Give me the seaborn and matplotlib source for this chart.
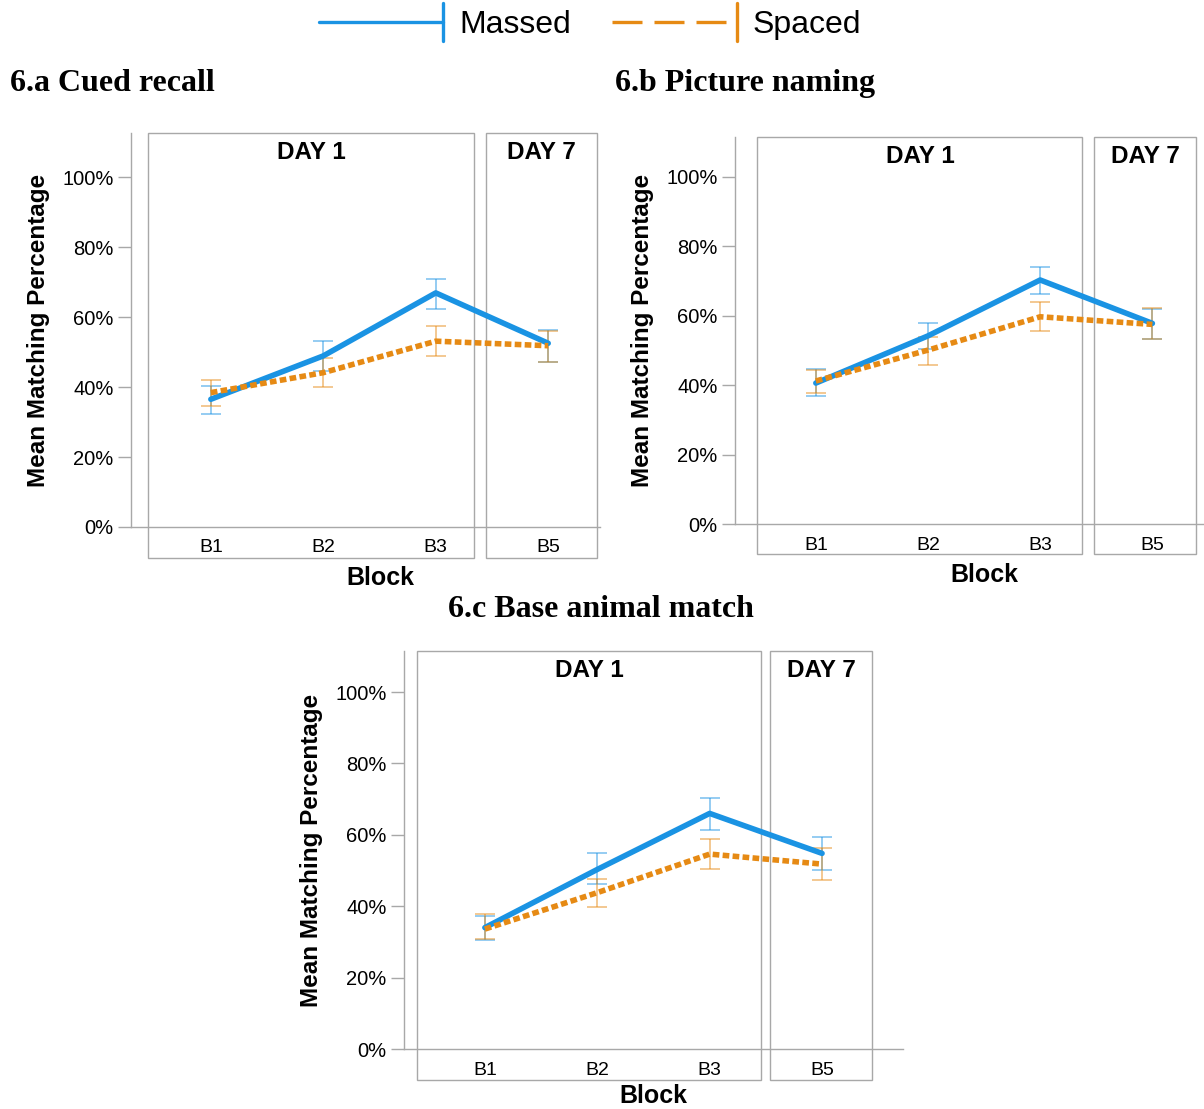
from matplotlib import pyplot as plt
from matplotlib.patches import Rectangle
from matplotlib.lines import Line2D
from matplotlib.legend_handler import HandlerBase
from matplotlib.ticker import PercentFormatter
import matplotlib.transforms as mtrans
import seaborn as sns
import pandas as pd

sns.set_style('white')
plt.rcParams['font.family'] = ['Liberation Sans', 'DejaVu Sans']
plt.rcParams['text.color'] = 'black'
plt.rcParams['axes.labelcolor'] = 'black'

# values (percent)
blocks = ['B1', 'B2', 'B3', 'B5']
conditions = ['Massed', 'Spaced']

cued_massed = [36.5, 48.9, 66.9, 52.5]
cued_massed_lo = [32.4, 44.6, 62.3, 47.1]
cued_massed_hi = [40.3, 53.2, 70.9, 56.3]
cued_spaced = [38.4, 44.1, 53.1, 51.8]
cued_spaced_lo = [34.7, 40.0, 48.9, 47.2]
cued_spaced_hi = [41.9, 48.2, 57.3, 56.1]

naming_massed = [40.6, 54.2, 70.3, 57.8]
naming_massed_lo = [36.9, 50.3, 66.4, 53.3]
naming_massed_hi = [44.7, 58.0, 74.0, 62.0]
naming_spaced = [41.2, 50.1, 59.7, 57.5]
naming_spaced_lo = [37.8, 45.8, 55.6, 53.3]
naming_spaced_hi = [44.5, 53.9, 64.0, 62.2]

animal_massed = [34.0, 50.3, 66.0, 54.8]
animal_massed_lo = [30.5, 46.1, 61.3, 50.1]
animal_massed_hi = [37.3, 55.0, 70.2, 59.4]
animal_spaced = [33.6, 43.8, 54.6, 51.8]
animal_spaced_lo = [30.9, 39.9, 50.4, 47.3]
animal_spaced_hi = [37.7, 47.7, 58.7, 56.4]

colors = {'Massed': '#1a93e3', 'Spaced': '#e68a14'}
grey = '#a8a8a8'


def make_frame(massed, massed_lo, massed_hi, spaced, spaced_lo, spaced_hi):
    rows = []
    for cond, m, lo, hi in [('Massed', massed, massed_lo, massed_hi),
                            ('Spaced', spaced, spaced_lo, spaced_hi)]:
        for b, v, l, h in zip(blocks, m, lo, hi):
            rows.append({'block': b, 'condition': cond, 'mean': v, 'lo': l, 'hi': h})
    return pd.DataFrame(rows)


def draw_panel(ax, df, xlim, ytop, day1, day7, label_xy):
    for cond in conditions:
        sub = df[df['condition'] == cond]
        ax.errorbar(list(sub['block']), sub['mean'],
                    yerr=[sub['mean'] - sub['lo'], sub['hi'] - sub['mean']],
                    fmt='none', ecolor=colors[cond], alpha=0.5, elinewidth=1.3,
                    capsize=7.5, capthick=1.3, zorder=2)
    sns.lineplot(data=df, x='block', y='mean', hue='condition', style='condition',
                 palette=colors, dashes={'Massed': '', 'Spaced': (1.2, 0.6)},
                 linewidth=4.0, legend=False, ax=ax, zorder=3)
    ax.set_xlim(*xlim)
    ax.set_ylim(0, ytop)
    ax.set_yticks([0, 20, 40, 60, 80, 100])
    ax.yaxis.set_major_formatter(PercentFormatter(decimals=0))
    sns.despine(ax=ax)
    for s in ['left', 'bottom']:
        ax.spines[s].set_color(grey)
        ax.spines[s].set_linewidth(1.0)
    ax.tick_params(axis='y', length=9.5, width=1.0, color=grey, labelcolor='black',
                   pad=3, labelsize=14.5, left=True)
    ax.tick_params(axis='x', length=0, pad=9, labelsize=14, labelcolor='black')
    ax.set_ylabel('Mean Matching Percentage', fontsize=17.5, fontweight='bold', labelpad=9)
    ax.set_xlabel('Block', fontsize=18, fontweight='bold')
    ax.xaxis.set_label_coords(*label_xy)
    # DAY boxes reaching below the axis
    trans = mtrans.blended_transform_factory(ax.transData, ax.transAxes)
    for (x0, x1), name in [(day1, 'DAY 1'), (day7, 'DAY 7')]:
        ax.add_patch(Rectangle((x0, -0.078), x1 - x0, 1.078, transform=trans,
                               fill=False, edgecolor=grey, lw=1.0, clip_on=False))
        ax.text((x0 + x1) / 2, 0.95, name, transform=trans, ha='center', va='center',
                fontsize=17.5, fontweight='bold')


class CapHandler(HandlerBase):
    def __init__(self, ls):
        super().__init__()
        self.ls = ls

    def create_artists(self, legend, orig, xdescent, ydescent, width, height, fontsize, trans):
        y = height / 2 - ydescent
        x1 = width - xdescent
        line = Line2D([-xdescent, x1], [y, y], color=orig.get_color(), lw=orig.get_linewidth(),
                      linestyle=self.ls, transform=trans)
        cap = Line2D([x1, x1], [y - height * 0.85, y + height * 0.85], color=orig.get_color(),
                     lw=orig.get_linewidth(), transform=trans)
        return [line, cap]


fig = plt.figure(figsize=(12.04, 11.09), dpi=100)

ax_a = fig.add_axes([0.1088, 0.5248, 0.3895, 0.3553])
draw_panel(ax_a, make_frame(cued_massed, cued_massed_lo, cued_massed_hi,
                            cued_spaced, cued_spaced_lo, cued_spaced_hi),
           (-0.71, 3.46), 112.6, (-0.56, 2.34), (2.45, 3.43), (0.531, -0.1))

ax_b = fig.add_axes([0.6105, 0.5275, 0.3895, 0.349])
draw_panel(ax_b, make_frame(naming_massed, naming_massed_lo, naming_massed_hi,
                            naming_spaced, naming_spaced_lo, naming_spaced_hi),
           (-0.72, 3.46), 111.5, (-0.52, 2.375), (2.48, 3.39), (0.531, -0.1))

ax_c = fig.add_axes([0.3355, 0.0541, 0.4145, 0.3589])
draw_panel(ax_c, make_frame(animal_massed, animal_massed_lo, animal_massed_hi,
                            animal_spaced, animal_spaced_lo, animal_spaced_hi),
           (-0.72, 3.72), 111.5, (-0.6, 2.46), (2.54, 3.44), (0.5, -0.087))

title_kw = dict(fontsize=23, fontweight='bold', family=['Liberation Serif', 'DejaVu Serif'], va='center')
fig.text(0.0083, 0.925, '6.a Cued recall', ha='left', **title_kw)
fig.text(0.511, 0.925, '6.b Picture naming', ha='left', **title_kw)
fig.text(0.499, 0.45, '6.c Base animal match', ha='center', **title_kw)

h_massed = Line2D([], [], color=colors['Massed'], lw=2.4)
h_spaced = Line2D([], [], color=colors['Spaced'], lw=2.4)
fig.legend([h_massed, h_spaced], conditions, loc='center', bbox_to_anchor=(0.49, 1 - 25 / 1109),
           ncol=2, frameon=False, fontsize=23, handlelength=3.9, handletextpad=0.5,
           columnspacing=1.3,
           handler_map={h_massed: CapHandler('-'), h_spaced: CapHandler((0, (9, 3.6)))})

fig.savefig('out.png', dpi=100)
